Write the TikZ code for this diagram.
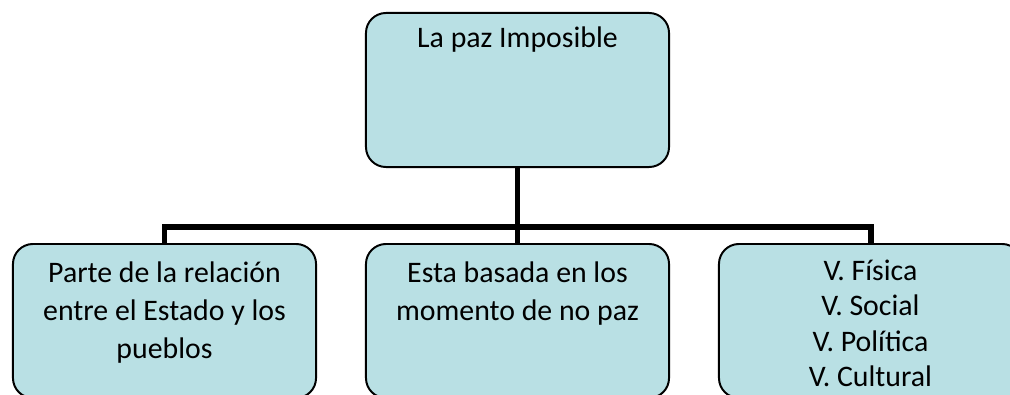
\documentclass[tikz,border=0pt]{standalone}
\usepackage{fontspec}
\setmainfont{Carlito}
\usepackage{tikz}

\definecolor{paleblue}{RGB}{185,224,228}
\newcommand{\boxlines}[3]{\parbox[c][3.85cm][t]{7.575cm}{\centering\fontsize{21.2pt}{#2}\selectfont\vspace*{#1}\rule{0pt}{17pt}#3}}

\begin{document}
\begin{tikzpicture}[x=0.025cm, y=-0.025cm,
	box/.style={draw=black, line width=1.4pt, fill=paleblue, rounded corners=0.5cm, inner sep=0pt, anchor=north},
	link/.style={line width=4.25pt}]
	
	\useasboundingbox (0,0) rectangle (1010,394);
	
	\node[box] (paz)       at (517.5,12)  {\boxlines{7.6pt}{24.9pt}{La paz Imposible}};
	\node[box] (estado)    at (164.5,243) {\boxlines{10.4pt}{27pt}{Parte de la relación\\entre el Estado y los\\pueblos}};
	\node[box] (nopaz)     at (517.5,243) {\boxlines{10.4pt}{27pt}{Esta basada en los\\momento de no paz}};
	\node[box] (violencia) at (870.5,243) {\boxlines{9.3pt}{24.9pt}{V. Física\\V. Social\\V. Política\\V. Cultural}};
	
	\coordinate (bus) at (517.5,227);
	
	\draw[link] (paz.south) -- (nopaz.north);
	\draw[link] (estado.north) -- (estado.north |- bus) -| (violencia.north);
	
\end{tikzpicture}
\end{document}
